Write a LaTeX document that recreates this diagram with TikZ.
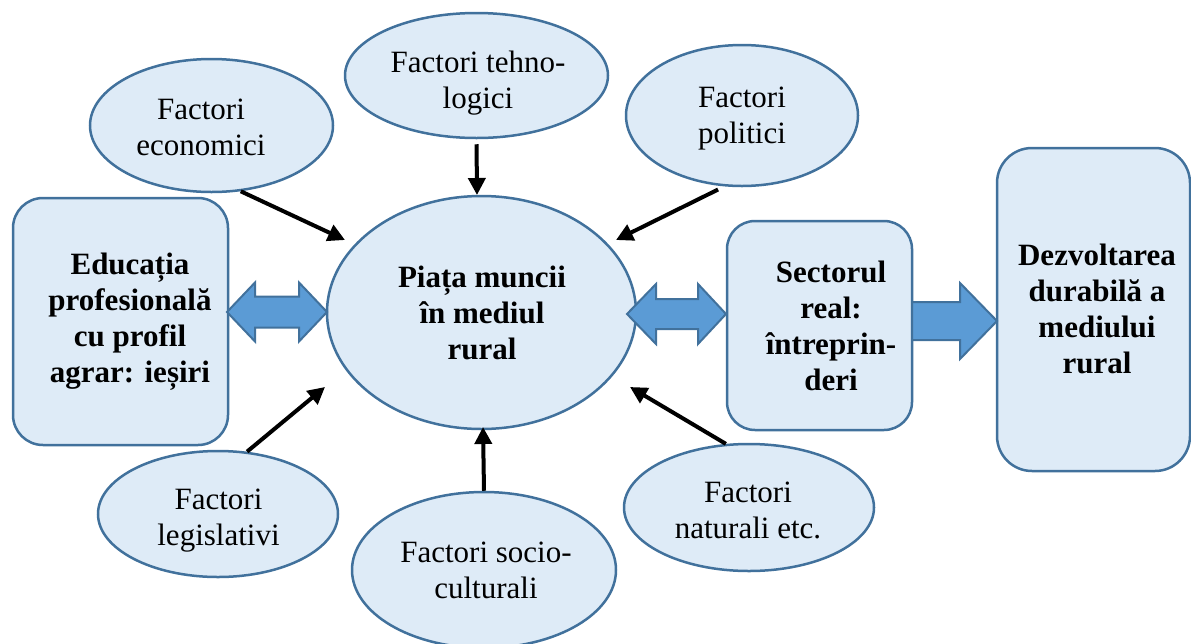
\documentclass[tikz,border=0pt]{standalone}
\usepackage{fontspec}
\setmainfont{Liberation Serif}
\usetikzlibrary{shapes.geometric,arrows.meta}
\definecolor{bord}{HTML}{41719C}
\definecolor{lfill}{HTML}{DEEBF7}
\definecolor{afill}{HTML}{5B9BD5}
\newcommand\tx[3]{\makebox[0pt]{\hspace*{#1}\raisebox{#2}[\height][\depth]{\begin{tabular}{@{}c@{}}#3\end{tabular}}}}
\begin{document}
\begin{tikzpicture}[x=1pt,y=-1pt,
  ell/.style={ellipse,draw=bord,fill=lfill,line width=2.5pt,inner sep=0pt,
    font=\fontsize{31pt}{36pt}\selectfont},
  bell/.style={ell,font=\fontsize{31pt}{36pt}\selectfont\bfseries},
  box/.style={rectangle,draw=bord,fill=lfill,line width=2.5pt,inner sep=0pt,
    font=\fontsize{31pt}{36pt}\selectfont\bfseries},
  arr/.style={line width=4pt,-{Triangle[length=17pt,width=17pt]}},
  blk/.style={draw=bord,fill=afill,line width=2pt,line join=miter}]
\useasboundingbox (0,0) rectangle (1191,643);

% ellipses
\node[ell,minimum width=243,minimum height=133] (econ) at (211.5,125.5)
  {\tx{-21pt}{-4.3pt}{Factori\\economici}};
\node[ell,minimum width=263,minimum height=125] (tehno) at (476.5,75.5)
  {\tx{3pt}{-7.3pt}{Factori tehno-\\logici}};
\node[ell,minimum width=232,minimum height=141] (pol) at (742,115.5)
  {\tx{0pt}{-2.3pt}{Factori\\politici}};
\node[ell,minimum width=240,minimum height=126] (legis) at (218,514)
  {\tx{1pt}{-5.8pt}{Factori\\legislativi}};
\node[ell,minimum width=264,minimum height=156] (socio) at (484,570)
  {\tx{4pt}{-2.8pt}{Factori socio-\\culturali}};
\node[ell,minimum width=250,minimum height=127] (nat) at (749,507.5)
  {\tx{-2pt}{-5.3pt}{Factori\\naturali etc.}};
\node[bell,minimum width=309,minimum height=233] (pm) at (481.5,312.5)
  {\tx{1pt}{-3.3pt}{Piața muncii\\în mediul\\rural}};

% boxes
\node[box,rounded corners=30pt,minimum width=215,minimum height=247] (educ) at (120.5,321.5)
  {\tx{19pt}{0pt}{Educația\\profesională\\cu profil\\agrar: ieșiri}};
\node[box,rounded corners=28pt,minimum width=185,minimum height=209] (sect) at (819.5,325.5)
  {\tx{23pt}{-3.3pt}{Sectorul\\real:\\întreprin-\\deri}};
\node[box,rounded corners=35pt,minimum width=193,minimum height=323] (dezv) at (1093.5,309.5)
  {\tx{7pt}{-2.3pt}{Dezvoltarea\\durabilă a\\mediului\\rural}};

% block arrows
\draw[blk] (227,312) -- (255,282.5) -- (255,296.5) -- (299,296.5) -- (299,282.5) -- (327,312)
  -- (299,341.5) -- (299,327.5) -- (255,327.5) -- (255,341.5) -- cycle;
\draw[blk] (627,314) -- (656,284) -- (656,299) -- (698,299) -- (698,284) -- (726,314)
  -- (698,344) -- (698,329) -- (656,329) -- (656,344) -- cycle;
\draw[blk] (912,302) -- (960,302) -- (960,283) -- (997,321) -- (960,359) -- (960,340)
  -- (912,340) -- cycle;

% arrow tips
\coordinate (t1) at (345,240);
\coordinate (t2) at (477,195);
\coordinate (t3) at (616,240);
\coordinate (t4) at (325,387);
\coordinate (t5) at (483,427);
\coordinate (t6) at (630,387);

\draw[arr] (econ.-66.6) -- (t1);
\draw[arr,shorten <=5pt] (tehno.south) -- (t2);
\draw[arr,shorten <=7pt] (pol.-104.7) -- (t3);
\draw[arr] (legis.65.3) -- (t4);
\draw[arr] (socio.north) -- (t5);
\draw[arr] (nat.110.7) -- (t6);
\end{tikzpicture}
\end{document}
